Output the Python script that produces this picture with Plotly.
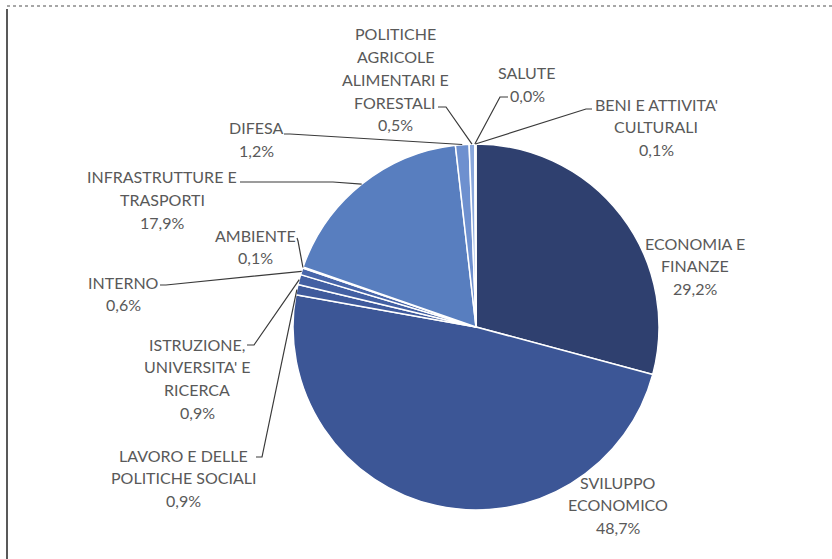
import math
import plotly.graph_objects as go

W, H = 832, 559

labels = ["ECONOMIA E FINANZE", "SVILUPPO ECONOMICO", "LAVORO E DELLE POLITICHE SOCIALI",
          "ISTRUZIONE, UNIVERSITA' E RICERCA", "INTERNO", "AMBIENTE", "INFRASTRUTTURE E TRASPORTI",
          "DIFESA", "POLITICHE AGRICOLE ALIMENTARI E FORESTALI", "SALUTE", "BENI E ATTIVITA' CULTURALI"]
values = [29.2, 48.7, 0.9, 0.9, 0.6, 0.1, 17.9, 1.2, 0.5, 0.0, 0.1]
pct_text = ["29,2%", "48,7%", "0,9%", "0,9%", "0,6%", "0,1%", "17,9%", "1,2%", "0,5%", "0,0%", "0,1%"]
label_lines = [
    ["ECONOMIA E", "FINANZE"],
    ["SVILUPPO", "ECONOMICO"],
    ["LAVORO E DELLE", "POLITICHE SOCIALI"],
    ["ISTRUZIONE,", "UNIVERSITA' E", "RICERCA"],
    ["INTERNO"],
    ["AMBIENTE"],
    ["INFRASTRUTTURE E", "TRASPORTI"],
    ["DIFESA"],
    ["POLITICHE", "AGRICOLE", "ALIMENTARI E", "FORESTALI"],
    ["SALUTE"],
    ["BENI E ATTIVITA'", "CULTURALI"],
]
colors = ["#2f406f", "#3c5696", "#3f5a9c", "#4360a3", "#4866aa", "#5070b5", "#587ebf",
          "#6e90cf", "#8aa8dc", "#9db6e2", "#aec3e8"]

# layout: pie geometry (pixels)
CX, CY, R = 476, 327, 183
# label block positions: center x, first line center y
label_pos = [(695, 243), (618, 482), (183, 455), (197, 344), (123, 282), (255, 235),
             (162, 177), (256, 128), (395, 34), (527, 73), (656, 104)]
LS = 22.7
# leader line anchors (label side): start point and hook end point, None for none
anchors = [None, None,
           ((256, 457), (262, 457)),
           ((247, 345), (254, 345)),
           ((160, 285), (166, 285)),
           ((297, 238), (298, 241)),
           ((240, 182), (333, 182)),
           ((284, 134), (290, 134)),
           ((438, 107), (446, 107)),
           ((508, 97), (500, 97)),
           ((592, 109), (586, 109))]


def px(x):
    return x / W


def py(y):
    return 1 - y / H


fig = go.Figure(go.Pie(
    labels=labels, values=values, sort=False, direction="clockwise", rotation=0,
    textinfo="none", hoverinfo="label+percent",
    marker=dict(colors=colors, line=dict(color="white", width=1.5)),
    domain=dict(x=[px(CX - R), px(CX + R)], y=[py(CY + R), py(CY - R)]),
    showlegend=False,
))

annotations = []
font = dict(family="Lato, 'Open Sans', sans-serif", size=16, color="#595959")
for i, lines in enumerate(label_lines):
    cx, y0 = label_pos[i]
    for k, t in enumerate(lines + [pct_text[i]]):
        annotations.append(dict(x=px(cx), y=py(y0 + k * LS), xref="paper", yref="paper",
                                text=t, showarrow=False, font=font,
                                xanchor="center", yanchor="middle"))

shapes = []
total = sum(values)
cum = 0.0
for i, v in enumerate(values):
    mid = (cum + v / 2) / total * 2 * math.pi
    cum += v
    if anchors[i] is None:
        continue
    ex = CX + R * math.sin(mid)
    ey = CY - R * math.cos(mid)
    (x0, y0), (x1, y1) = anchors[i]
    path = f"M {px(x0)} {py(y0)} L {px(x1)} {py(y1)} L {px(ex)} {py(ey)}"
    shapes.append(dict(type="path", path=path, xref="paper", yref="paper",
                       line=dict(color="#3a3a3a", width=1.2)))

# frame lines
shapes.append(dict(type="line", xref="paper", yref="paper", x0=px(7), x1=px(832), y0=py(6), y1=py(6),
                   line=dict(color="#8a8a8a", width=1.5, dash="dot")))
shapes.append(dict(type="line", xref="paper", yref="paper", x0=px(7), x1=px(7), y0=py(9), y1=py(559),
                   line=dict(color="#222222", width=1.5)))

fig.update_layout(width=W, height=H, margin=dict(l=0, r=0, t=0, b=0),
                  paper_bgcolor="white", plot_bgcolor="white",
                  annotations=annotations, shapes=shapes)
fig.write_html("out.html")
